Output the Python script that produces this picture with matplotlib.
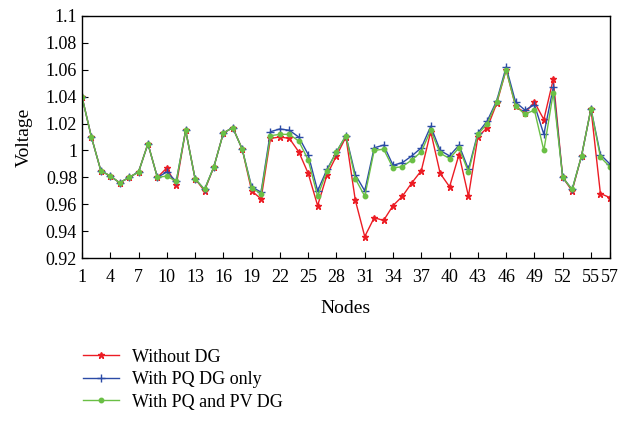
import numpy as np
import matplotlib.pyplot as plt
from matplotlib.ticker import FuncFormatter

plt.rcParams['font.family'] = ['Liberation Serif', 'DejaVu Serif']

nodes = np.arange(1, 58)

# voltage per node
without_dg = [1.040, 1.010, 0.985, 0.981, 0.976, 0.980, 0.984, 1.005, 0.980, 0.987,
              0.974, 1.015, 0.979, 0.970, 0.988, 1.013, 1.017, 1.001, 0.970, 0.964,
              1.009, 1.010, 1.009, 0.999, 0.983, 0.959, 0.982, 0.996, 1.010, 0.963,
              0.936, 0.950, 0.948, 0.959, 0.966, 0.976, 0.985, 1.014, 0.983, 0.973,
              0.997, 0.966, 1.010, 1.017, 1.035, 1.060, 1.033, 1.028, 1.036, 1.023,
              1.053, 0.980, 0.970, 0.996, 1.031, 0.968, 0.965]
pq_only = [1.040, 1.010, 0.985, 0.981, 0.976, 0.980, 0.984, 1.005, 0.980, 0.984,
           0.977, 1.015, 0.979, 0.971, 0.988, 1.013, 1.017, 1.001, 0.973, 0.969,
           1.014, 1.016, 1.015, 1.010, 0.997, 0.970, 0.986, 0.999, 1.011, 0.982,
           0.970, 1.002, 1.004, 0.989, 0.991, 0.996, 1.002, 1.018, 1.000, 0.996,
           1.004, 0.986, 1.013, 1.022, 1.037, 1.062, 1.036, 1.030, 1.034, 1.012,
           1.047, 0.980, 0.971, 0.996, 1.031, 0.997, 0.990]
pq_pv = [1.040, 1.010, 0.985, 0.981, 0.976, 0.980, 0.984, 1.005, 0.980, 0.981,
         0.977, 1.015, 0.979, 0.971, 0.988, 1.013, 1.017, 1.001, 0.972, 0.968,
         1.011, 1.012, 1.012, 1.007, 0.993, 0.966, 0.985, 0.999, 1.011, 0.979,
         0.966, 1.000, 1.001, 0.987, 0.988, 0.993, 0.999, 1.015, 0.998, 0.994,
         1.002, 0.984, 1.012, 1.020, 1.036, 1.060, 1.033, 1.027, 1.030, 1.000,
         1.043, 0.980, 0.971, 0.996, 1.031, 0.995, 0.988]

xticks = [1, 4, 7, 10, 13, 16, 19, 22, 25, 28, 31, 34, 37, 40, 43, 46, 49, 52, 55, 57]
xticklabels = [str(t) for t in xticks]

fig = plt.figure(figsize=(6.21, 4.21), dpi=100)
ax = fig.add_axes([0.132, 0.387, 0.85, 0.575])

ax.plot(nodes, without_dg, color='#ec1c24', marker='*', markersize=5, lw=1.0,
        label='Without DG')
ax.plot(nodes, pq_only, color='#2b4ba6', marker='+', markersize=6, lw=1.0,
        label='With PQ DG only')
ax.plot(nodes, pq_pv, color='#6abf45', marker='o', markersize=3.2, lw=1.0,
        label='With PQ and PV DG')

ax.set_xlim(1, 57)
ax.set_ylim(0.92, 1.1)
ax.set_xticks(xticks)
ax.set_xticklabels(xticklabels)
ax.set_yticks(np.arange(0.92, 1.1001, 0.02))
ax.yaxis.set_major_formatter(FuncFormatter(lambda v, p: f'{v:.2f}'.rstrip('0').rstrip('.')))
ax.tick_params(direction='in', labelsize=13, length=4, top=False, right=False)
ax.tick_params(axis='x', pad=8)
for s in ax.spines.values():
    s.set_linewidth(1.0)

ax.set_xlabel('Nodes', fontsize=14, labelpad=10)
ax.set_ylabel('Voltage', fontsize=14, labelpad=9)

ax.legend(loc='upper left', bbox_to_anchor=(-0.012, -0.345), frameon=False,
          fontsize=13, handlelength=2.0, handletextpad=0.7, labelspacing=0.3,
          borderaxespad=0)

fig.savefig('out.png', dpi=100)
